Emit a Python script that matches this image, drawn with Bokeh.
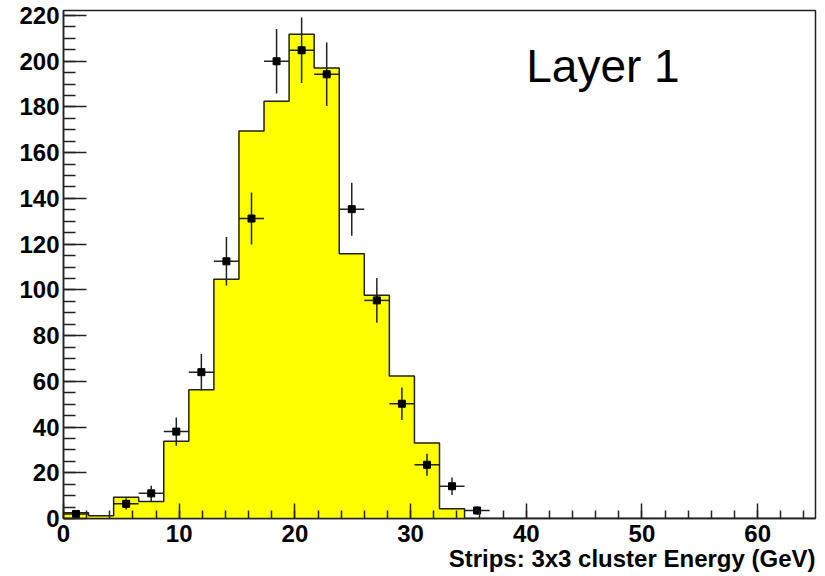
import numpy as np
from bokeh.plotting import figure
from bokeh.models import Range1d, SingleIntervalTicker, Label, ColumnDataSource, Title
from bokeh.embed import file_html
from bokeh.resources import INLINE

# ---- data ----
x_min, x_max, n_bins = 0.0, 65.0, 30
hist_counts = [2.5, 1.2, 9.3, 7.4, 33.8, 56.3, 104.7, 169.5, 182.5, 211.8,
               197.0, 115.8, 97.6, 62.3, 33.0, 4.3, 0, 0, 0, 0,
               0, 0, 0, 0, 0, 0, 0, 0, 0, 0]
point_bins = [0, 2, 3, 4, 5, 6, 7, 8, 9, 10, 11, 12, 13, 14, 15, 16]
point_vals = [2.0, 6.4, 11.0, 38.0, 64.0, 112.5, 131.2, 200.0, 204.8, 194.3,
              135.3, 95.4, 50.2, 23.5, 14.1, 3.5]
point_errs = [1.4, 2.5, 3.3, 6.2, 8.0, 10.6, 11.4, 14.1, 14.3, 13.9,
              11.6, 9.8, 7.1, 4.8, 3.8, 1.9]
x_title = "Strips: 3x3 cluster Energy (GeV)"
panel_text = "Layer 1"

edges = np.linspace(x_min, x_max, n_bins + 1)
width = edges[1] - edges[0]
centers = 0.5 * (edges[:-1] + edges[1:])

p = figure(width=825, height=576, output_backend="svg", toolbar_location=None,
           x_range=Range1d(0, 65), y_range=Range1d(0, 222.2),
           min_border_left=63, min_border_right=10, min_border_top=10,
           min_border_bottom=58)
p.background_fill_color = "white"
p.border_fill_color = "white"
p.outline_line_color = "#222222"
p.outline_line_width = 1.5
p.xgrid.visible = False
p.ygrid.visible = False

# histogram
p.quad(left=edges[:-1], right=edges[1:], bottom=0, top=hist_counts,
       fill_color="#ffff00", line_color="#ffff00", line_width=1)
p.step(x=edges, y=list(hist_counts) + [hist_counts[-1]], mode="after",
       line_color="#222222", line_width=1.5)

# data points with error bars
pc = centers[point_bins]
src = ColumnDataSource(dict(
    x=pc, y=point_vals,
    xl=pc - width / 2, xr=pc + width / 2,
    yl=np.array(point_vals) - np.array(point_errs),
    yh=np.array(point_vals) + np.array(point_errs)))
p.segment(x0="xl", x1="xr", y0="y", y1="y", source=src,
          line_color="#222222", line_width=1.5)
p.segment(x0="x", x1="x", y0="yl", y1="yh", source=src,
          line_color="#222222", line_width=1.5)
p.scatter(x="x", y="y", source=src, marker="square", size=7,
          fill_color="black", line_color="black")

# axes
for ax in (p.xaxis[0], p.yaxis[0]):
    ax.axis_line_color = "#222222"
    ax.axis_line_width = 1.5
    ax.major_tick_line_color = "#222222"
    ax.minor_tick_line_color = "#222222"
    ax.major_tick_line_width = 1.5
    ax.minor_tick_line_width = 1.5
    ax.major_tick_out = 0
    ax.minor_tick_out = 0
    ax.major_label_text_font = "Liberation Sans"
    ax.major_label_text_font_style = "bold"
    ax.major_label_text_font_size = "24px"
    ax.major_label_text_color = "black"

p.xaxis.ticker = SingleIntervalTicker(interval=10, num_minor_ticks=5)
p.xaxis.major_tick_in = 15
p.xaxis.minor_tick_in = 8
p.xaxis.major_label_standoff = 6
p.xaxis.major_label_text_line_height = 0.85

p.yaxis.ticker = SingleIntervalTicker(interval=20, num_minor_ticks=4)
p.yaxis.major_tick_in = 23
p.yaxis.minor_tick_in = 12
p.yaxis.major_label_standoff = 4

p.add_layout(Title(text=x_title, align="right", standoff=0,
                   vertical_align="top", text_line_height=0.9,
                   text_font="Liberation Sans", text_font_style="bold",
                   text_font_size="24px", text_color="black"), "below")

p.add_layout(Label(x=40, y=197.8, text=panel_text, text_align="left",
                   text_baseline="alphabetic", text_font="Liberation Sans",
                   text_font_size="46px", text_color="black"))

open("out.html", "w").write(file_html(p, INLINE))
